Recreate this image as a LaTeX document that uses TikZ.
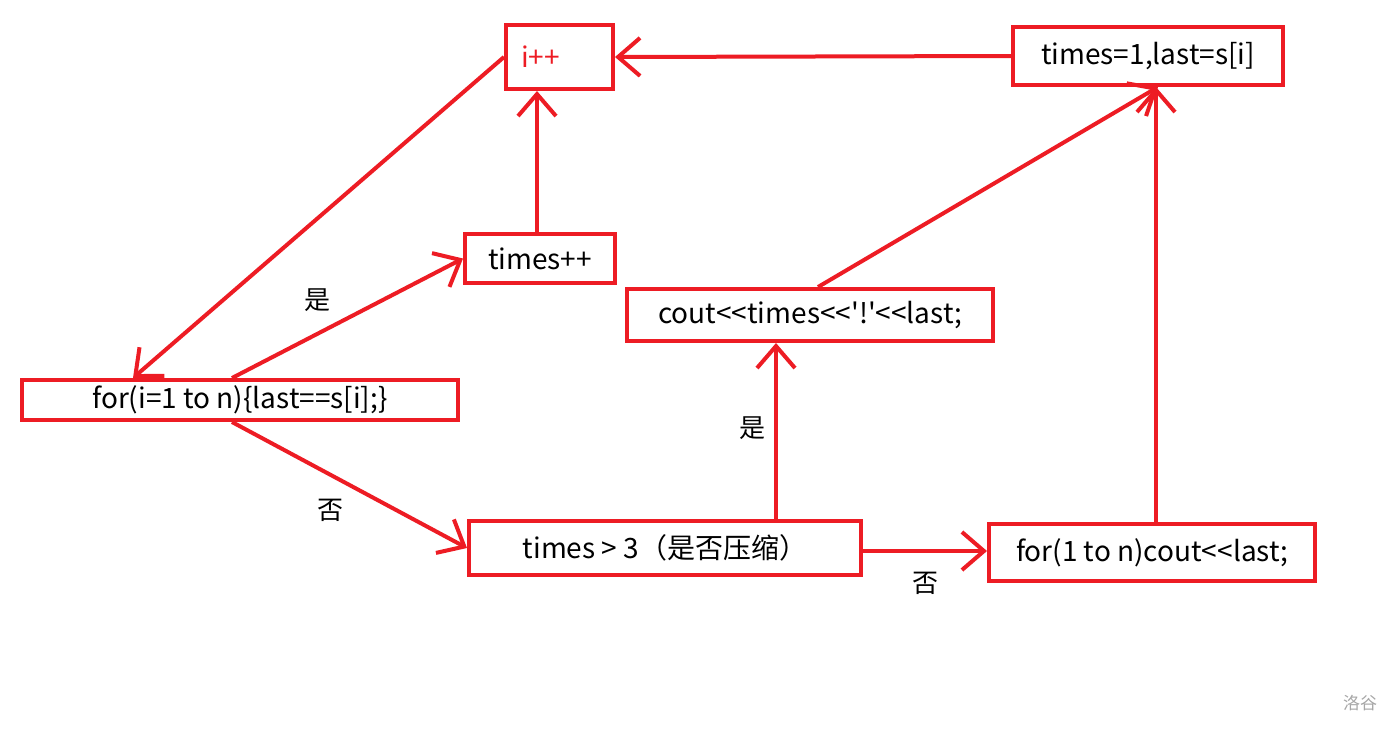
\documentclass[tikz,border=0pt]{standalone}
\usepackage{fontspec}
\setmainfont{Noto Sans CJK SC}[Ligatures=TeXOff]
\usetikzlibrary{arrows.meta, positioning}
\definecolor{paintred}{RGB}{237, 28, 36}

\begin{document}
\begin{tikzpicture}[x=1pt, y=-1pt, font=\fontsize{28}{32}\selectfont,
        box/.style={draw=paintred, line width=4pt, rectangle, inner sep=0pt},
        arr/.style={draw=paintred, line width=4pt, -{Straight Barb[length=22pt, width=38pt]}},
        lab/.style={font=\fontsize{26}{30}\selectfont}]
    \useasboundingbox (0,0) rectangle (1400,732);
    % boxes
    \node[box, minimum width=107pt, minimum height=64pt, text width=77pt, inner xsep=15pt, align=left, text=paintred]
        at (559.5, 57) (ipp) {i++};
    \node[box, minimum width=270pt, minimum height=58pt] at (1148, 56) (tset) {times=1,last=s[i]};
    \node[box, minimum width=150pt, minimum height=49pt] at (540, 258.5) (tpp) {times++};
    \node[box, minimum width=366pt, minimum height=52pt] at (810, 315) (cout) {cout<<times<<'!'<<last;};
    \node[box, minimum width=436pt, minimum height=40pt] at (240, 400) (loop) {for(i=1 to n)\{last==s[i];\}};
    \node[box, minimum width=392pt, minimum height=54pt] at (665, 548) (cmp) {times > 3（是否压缩）};
    \node[box, minimum width=326pt, minimum height=57pt] at (1152, 552.5) (out) {for(1 to n)cout<<last;};
    % labels
    \node[lab] at (317, 300) (yesA) {是};
    \node[lab] at (330, 510) (noA) {否};
    \node[lab] at (752, 428) (yesB) {是};
    \node[lab] at (925, 583) (noB) {否};
    \node[font=\fontsize{17}{20}\selectfont, text=gray!70] at (1360, 703) (mark) {洛谷};
    % connectors
    \draw[arr] (ipp.west) -- ([xshift=113pt]loop.north west);
    \draw[arr] ([xshift=-8pt]loop.north) -- (tpp.west);
    \draw[arr] ([xshift=-3pt]tpp.north) -- ([xshift=-3pt]tpp.north |- ipp.south);
    \draw[arr] (tset.west) -- (ipp.east);
    \draw[arr] ([xshift=8pt]cout.north) -- ([xshift=10pt]tset.south);
    \draw[arr] ([xshift=-8pt]loop.south) -- (cmp.west);
    \draw[arr] ([xshift=111pt]cmp.north) -- ([xshift=111pt]cmp.north |- cout.south);
    \draw[arr] ([yshift=-3pt]cmp.east) -- ([yshift=-3pt]cmp.east -| out.west);
    \draw[arr] ([xshift=4pt]out.north) -- ([xshift=4pt]out.north |- tset.south);
\end{tikzpicture}
\end{document}
